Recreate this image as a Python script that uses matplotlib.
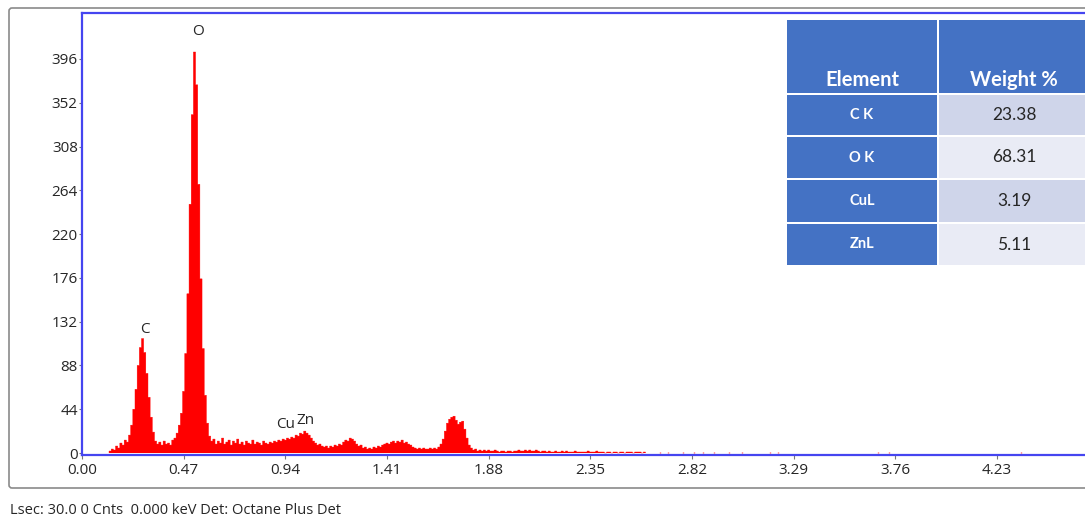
import numpy as np
import matplotlib
matplotlib.use("Agg")
import matplotlib.pyplot as plt
from matplotlib.patches import Rectangle, FancyBboxPatch

# ---------------- data ----------------
channel_start = 0.13   # keV, first channel shown
channel_width = 0.01   # keV
counts = [
    2, 4, 3, 7, 5, 10, 8, 13, 11, 18,                 # 0.13-0.22
    28, 44, 64, 88, 106, 115, 101, 80, 56, 36,         # 0.23-0.32
    21, 12, 9, 11, 8, 12, 9, 10, 8, 13,                # 0.33-0.42
    15, 20, 28, 40, 62, 100, 160, 250, 340, 403,       # 0.43-0.52
    370, 270, 175, 105, 58, 30, 17, 12, 14, 9,         # 0.53-0.62
    12, 10, 15, 9, 11, 13, 8, 12, 10, 14,              # 0.63-0.72
    9, 11, 8, 12, 10, 9, 13, 9, 11, 10,                # 0.73-0.82
    8, 12, 10, 9, 11, 10, 12, 11, 13, 12,              # 0.83-0.92
    14, 13, 15, 14, 16, 15, 18, 17, 20, 19,            # 0.93-1.02
    22, 20, 18, 15, 12, 10, 8, 9, 7, 6,                # 1.03-1.12
    7, 5, 7, 6, 8, 7, 9, 8, 11, 13,                    # 1.13-1.22
    12, 15, 14, 12, 9, 7, 8, 5, 6, 4,                  # 1.23-1.32
    5, 4, 6, 5, 7, 6, 8, 9, 10, 9,                     # 1.33-1.42
    11, 12, 10, 12, 11, 13, 10, 11, 9, 8,              # 1.43-1.52
    6, 5, 4, 5, 4, 5, 4, 4, 5, 4,                      # 1.53-1.62
    5, 4, 6, 9, 14, 22, 30, 34, 36, 37,                # 1.63-1.72
    33, 29, 31, 32, 24, 15, 8, 5, 3, 4,                # 1.73-1.82
    2, 3, 2, 3, 2, 3, 2, 2, 3, 2,                      # 1.83-1.92
    1, 2, 2, 1, 2, 2, 1, 2, 2, 3,                      # 1.93-2.02
    2, 2, 3, 2, 3, 2, 2, 3, 2, 1,                      # 2.03-2.12
    2, 2, 1, 2, 1, 1, 2, 1, 1, 2,                      # 2.13-2.22
    1, 2, 1, 1, 1, 2, 1, 1, 1, 1,                      # 2.23-2.32
    1, 2, 1, 1, 1, 2, 1, 1, 1, 0,                      # 2.33-2.42
    1, 1, 0, 1, 1, 0, 1, 1, 0, 1,                      # 2.43-2.52
    1, 1, 0, 1, 1, 1, 0, 1,                            # 2.53-2.60
]
sparse_energy = [2.67, 2.71, 2.78, 2.83, 2.87, 2.92, 2.99, 3.05, 3.18, 3.22, 3.68, 3.73, 4.34]
sparse_counts = [1, 1, 1, 1, 1, 1, 1, 1, 1, 1, 1, 1, 1]

peak_labels = ["C", "O", "Cu", "Zn"]
peak_label_pos = [(0.29, 124.5), (0.535, 424), (0.943, 29), (1.031, 33)]

x_ticks = [0.00, 0.47, 0.94, 1.41, 1.88, 2.35, 2.82, 3.29, 3.76, 4.23]
y_ticks = [0, 44, 88, 132, 176, 220, 264, 308, 352, 396]

table_elements = ["C K", "O K", "CuL", "ZnL"]
table_weights = ["23.38", "68.31", "3.19", "5.11"]
table_header = ["Element", "Weight %"]

status_text = "Lsec: 30.0 0 Cnts  0.000 keV Det: Octane Plus Det"

# ---------------- figure ----------------
W, H = 1085, 518
fig = plt.figure(figsize=(W / 100, H / 100), dpi=100)
fig.patch.set_facecolor("white")
TXT = "#262626"

def fx(px):
    return px / W

def fy(py):
    return 1 - py / H

# outer frame (drawn on a full-figure overlay)
bg = fig.add_axes([0, 0, 1, 1], zorder=0)
bg.set_xlim(0, W)
bg.set_ylim(H, 0)
bg.axis("off")
bg.add_patch(FancyBboxPatch((9, 8), 1100, 480, boxstyle="round,pad=0,rounding_size=3",
                            fc="white", ec="#8a8a8a", lw=1.2))
bg.text(10, 510, status_text, fontsize=10.5, family="Open Sans", color=TXT,
        va="center", ha="left")

# spectrum axes
ax_left, ax_right, ax_top, ax_bottom = 82, 1098.6, 13, 455
ax = fig.add_axes([fx(ax_left), fy(ax_bottom), fx(ax_right - ax_left), (ax_bottom - ax_top) / H], zorder=1)
ax.patch.set_alpha(0)

edges = np.round(channel_start - channel_width / 2 + channel_width * np.arange(len(counts) + 1), 4)
ax.stairs(counts, edges, fill=True, facecolor="#ff0000", edgecolor="#ff0000", lw=0.3, snap=False)
ax.vlines(sparse_energy, 0, sparse_counts, color="#ff4040", lw=1.0)

for lab, (xx, yy) in zip(peak_labels, peak_label_pos):
    ax.text(xx, yy, lab, fontsize=11, family="Open Sans", color=TXT, ha="center", va="center")

ax.set_xlim(0, 4.70)
ax.set_ylim(-2, 442.2)
ax.set_xticks(x_ticks)
ax.set_xticklabels([f"{v:.2f}" for v in x_ticks])
ax.set_yticks(y_ticks)
ax.set_yticklabels([str(v) for v in y_ticks])
for lab in ax.get_xticklabels() + ax.get_yticklabels():
    lab.set_family("Open Sans")
    lab.set_fontsize(11)
    lab.set_color(TXT)
ax.tick_params(axis="x", length=3, width=0.8, color="#777777", pad=2.5)
ax.tick_params(axis="y", length=2, width=0.8, color="#777777", pad=1)
for side in ["left", "top", "bottom", "right"]:
    ax.spines[side].set_color("#4545f0")
    ax.spines[side].set_linewidth(1.6)

# table overlay
ov = fig.add_axes([0, 0, 1, 1], zorder=3)
ov.set_xlim(0, W)
ov.set_ylim(H, 0)
ov.axis("off")
blue = "#4472C4"
c1 = (787, 937)
c2 = (939, 1095)
ov.add_patch(Rectangle((c1[0], 20), c1[1] - c1[0], 73, fc=blue, ec="none"))
ov.add_patch(Rectangle((c2[0], 20), c2[1] - c2[0], 73, fc=blue, ec="none"))
ov.text((c1[0] + c1[1]) / 2, 86, table_header[0], fontsize=14.5, family="Lato", weight="bold",
        color="white", ha="center", va="baseline")
ov.text(1014, 86, table_header[1], fontsize=14.5, family="Lato", weight="bold",
        color="white", ha="center", va="baseline")
rows = [(95, 135), (137, 178), (180, 222), (224, 265)]
fills = ["#CFD5EA", "#E9EBF5", "#CFD5EA", "#E9EBF5"]
for (t, b), el, wt, fc in zip(rows, table_elements, table_weights, fills):
    ov.add_patch(Rectangle((c1[0], t), c1[1] - c1[0], b - t, fc=blue, ec="none"))
    ov.add_patch(Rectangle((c2[0], t), c2[1] - c2[0], b - t, fc=fc, ec="none"))
    ov.text((c1[0] + c1[1]) / 2, (t + b) / 2, el, fontsize=10.5, family="Lato", weight="bold",
            color="white", ha="center", va="center")
    ov.text(1014, (t + b) / 2, wt, fontsize=12.5, family="Lato", color=TXT,
            ha="center", va="center")

fig.savefig("out.png", dpi=100)
